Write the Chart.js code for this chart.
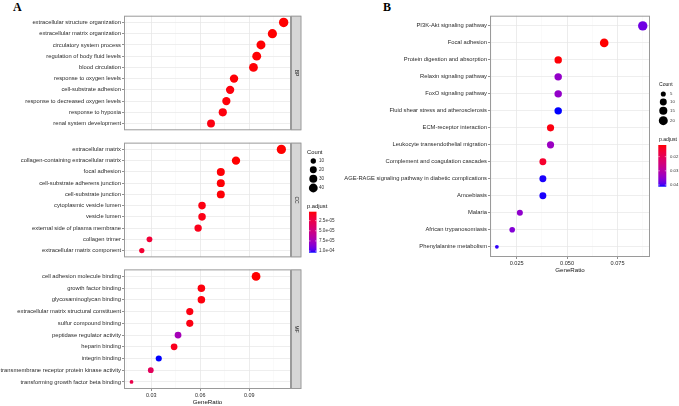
<!DOCTYPE html>
<html>
<head>
<meta charset="utf-8">
<script src="https://cdn.jsdelivr.net/npm/chart.js@4.4.0/dist/chart.umd.min.js"></script>
<style>
  html, body { margin: 0; padding: 0; background: #fff; }
  #wrap { position: relative; width: 679px; height: 406px; overflow: hidden; }
  canvas { position: absolute; }
  .tag { position: absolute; font-family: "Liberation Serif", serif; font-weight: bold; font-size: 12px; line-height: 12px; }
</style>
</head>
<body>
<div id="wrap">
  <div class="tag" style="left:13px;top:1px">A</div>
  <div class="tag" style="left:383px;top:1px">B</div>
  <canvas id="bp" width="340" height="124" style="left:0;top:11px"></canvas>
  <canvas id="cc" width="340" height="124" style="left:0;top:138px"></canvas>
  <canvas id="mf" width="340" height="141" style="left:0;top:265px"></canvas>
  <canvas id="kegg" width="339" height="263" style="left:340px;top:11px"></canvas>
</div>
<script>
// ---- GO enrichment (panel A), top row first ----
const bpTerms = ['extracellular structure organization', 'extracellular matrix organization', 'circulatory system process',
  'regulation of body fluid levels', 'blood circulation', 'response to oxygen levels', 'cell-substrate adhesion',
  'response to decreased oxygen levels', 'response to hypoxia', 'renal system development'];
const bpRatio = [0.1111, 0.1042, 0.0972, 0.0946, 0.0926, 0.0807, 0.0783, 0.0760, 0.0738, 0.0666];
const bpCount = [48, 45, 42, 41, 40, 35, 34, 33, 32, 29];
const bpPadj = [3e-6, 3e-6, 3.5e-6, 3.5e-6, 4e-6, 4e-6, 5e-6, 4.5e-6, 5e-6, 6e-6];

const ccTerms = ['extracellular matrix', 'collagen-containing extracellular matrix', 'focal adhesion',
  'cell-substrate adherens junction', 'cell-substrate junction', 'cytoplasmic vesicle lumen', 'vesicle lumen',
  'external side of plasma membrane', 'collagen trimer', 'extracellular matrix component'];
const ccRatio = [0.1097, 0.0819, 0.0726, 0.0726, 0.0726, 0.0611, 0.0611, 0.0587, 0.0289, 0.0242];
const ccCount = [46, 34, 30, 30, 30, 25, 25, 24, 12, 10];
const ccPadj = [3e-6, 3e-6, 4e-6, 4e-6, 4e-6, 6e-6, 7e-6, 8e-6, 1.8e-5, 1.6e-5];

const mfTerms = ['cell adhesion molecule binding', 'growth factor binding', 'glycosaminoglycan binding',
  'extracellular matrix structural constituent', 'sulfur compound binding', 'peptidase regulator activity',
  'heparin binding', 'integrin binding', 'transmembrane receptor protein kinase activity',
  'transforming growth factor beta binding'];
const mfRatio = [0.0942, 0.0607, 0.0607, 0.0536, 0.0536, 0.0464, 0.0440, 0.0346, 0.0297, 0.0179];
const mfCount = [39, 25, 25, 22, 22, 19, 18, 14, 12, 7];
const mfPadj = [3e-6, 5e-6, 5e-6, 6e-6, 6e-6, 7.4e-5, 9e-6, 1.04e-4, 3.3e-5, 2.6e-5];

const goTicks = [0.03, 0.06, 0.09];
const goMinor = [0.015, 0.045, 0.075, 0.105];
const goCountKeys = [10, 20, 30, 40];
const goPadjKeys = [2.5e-5, 5e-5, 7.5e-5, 1e-4];
const goPadjLabels = ['2.5e-05', '5.0e-05', '7.5e-05', '1.0e-04'];

// ---- KEGG enrichment (panel B) ----
const keggTerms = ['PI3K-Akt signaling pathway', 'Focal adhesion', 'Protein digestion and absorption',
  'Relaxin signaling pathway', 'FoxO signaling pathway', 'Fluid shear stress and atherosclerosis',
  'ECM-receptor interaction', 'Leukocyte transendothelial migration', 'Complement and coagulation cascades',
  'AGE-RAGE signaling pathway in diabetic complications', 'Amoebiasis', 'Malaria', 'African trypanosomiasis',
  'Phenylalanine metabolism'];
const keggRatio = [0.0875, 0.0684, 0.0456, 0.0456, 0.0456, 0.0456, 0.0418, 0.0418, 0.0380, 0.0380, 0.0380, 0.0266, 0.0228, 0.0152];
const keggCount = [23, 18, 12, 12, 12, 12, 11, 11, 10, 10, 10, 7, 6, 4];
const keggPadj = [0.0378, 0.0118, 0.0121, 0.0347, 0.0347, 0.0412, 0.0126, 0.0338, 0.0150, 0.0410, 0.0410, 0.0350, 0.0362, 0.0406];

const keggTicks = [0.025, 0.050, 0.075];
const keggMinor = [0.0125, 0.0375, 0.0625, 0.0875];
const keggCountKeys = [5, 10, 15, 20];
const keggPadjKeys = [0.02, 0.03, 0.04];
const keggPadjLabels = ['0.02', '0.03', '0.04'];

Chart.defaults.font.family = '"Liberation Sans", Arial, sans-serif';
Chart.defaults.animation = false;

// red -> blue gradient interpolated in Lab, like ggplot
function toLin(c) { c /= 255; return c <= 0.04045 ? c / 12.92 : Math.pow((c + 0.055) / 1.055, 2.4); }
function fromLin(c) {
  c = c <= 0.0031308 ? 12.92 * c : 1.055 * Math.pow(Math.max(c, 0), 1 / 2.4) - 0.055;
  return Math.round(Math.min(1, Math.max(0, c)) * 255);
}
function rgb2lab(rgb) {
  const [r, g, b] = rgb.map(toLin);
  const f = t => t > 0.008856 ? Math.cbrt(t) : 7.787 * t + 16 / 116;
  const x = f((0.4124 * r + 0.3576 * g + 0.1805 * b) / 0.95047);
  const y = f(0.2126 * r + 0.7152 * g + 0.0722 * b);
  const z = f((0.0193 * r + 0.1192 * g + 0.9505 * b) / 1.08883);
  return [116 * y - 16, 500 * (x - y), 200 * (y - z)];
}
function lab2rgb([L, a, bb]) {
  const fy = (L + 16) / 116, fx = fy + a / 500, fz = fy - bb / 200;
  const g = t => t * t * t > 0.008856 ? t * t * t : (t - 16 / 116) / 7.787;
  const x = g(fx) * 0.95047, y = g(fy), z = g(fz) * 1.08883;
  return [3.2406 * x - 1.5372 * y - 0.4986 * z,
          -0.9689 * x + 1.8758 * y + 0.0415 * z,
          0.0557 * x - 0.2040 * y + 1.0570 * z].map(fromLin);
}
const LOW = rgb2lab([255, 0, 0]), HIGH = rgb2lab([0, 0, 255]);
function colorOf(p, range) {
  const t = Math.min(1, Math.max(0, (p - range[0]) / (range[1] - range[0])));
  const c = lab2rgb(LOW.map((v, i) => v + (HIGH[i] - v) * t));
  return 'rgb(' + c.join(',') + ')';
}
// point radius: area scaled between the smallest and largest count
function sizeOf(n, range) {
  return 1.9 + 2.8 * Math.sqrt((n - range[0]) / (range[1] - range[0]));
}
const span = arr => [Math.min(...arr), Math.max(...arr)];

const goCountRange = span([...bpCount, ...ccCount, ...mfCount]);
const goPadjRange = span([...bpPadj, ...ccPadj, ...mfPadj]);
const keggCountRange = span(keggCount);
const keggPadjRange = span(keggPadj);

const panelBorder = {
  id: 'panelBorder',
  afterDraw(chart) {
    const { ctx, chartArea: a } = chart;
    ctx.save();
    ctx.strokeStyle = '#9a9a9a';
    ctx.lineWidth = 1;
    ctx.strokeRect(a.left + 0.5, a.top + 0.5, a.right - a.left - 1, a.bottom - a.top - 1);
    ctx.restore();
  }
};

function stripPlugin(text) {
  return {
    id: 'strip',
    afterDraw(chart) {
      const { ctx, chartArea: a } = chart;
      ctx.save();
      ctx.fillStyle = '#d6d6d6';
      ctx.fillRect(a.right, a.top, 10, a.bottom - a.top);
      ctx.strokeStyle = '#9a9a9a';
      ctx.strokeRect(a.right + 0.5, a.top + 0.5, 9.5, a.bottom - a.top - 1);
      ctx.translate(a.right + 5, (a.top + a.bottom) / 2);
      ctx.rotate(Math.PI / 2);
      ctx.fillStyle = '#1a1a1a';
      ctx.font = '5px "Liberation Sans"';
      ctx.textAlign = 'center';
      ctx.textBaseline = 'middle';
      ctx.fillText(text, 0, 0);
      ctx.restore();
    }
  };
}

// legend positions are page coordinates; ox/oy is the canvas offset
function legendPlugin(L) {
  return {
    id: 'dotLegend',
    afterDraw(chart) {
      const ctx = chart.ctx;
      ctx.save();
      ctx.translate(-L.ox, -L.oy);
      ctx.textBaseline = 'middle';
      ctx.textAlign = 'left';
      ctx.fillStyle = '#111';
      ctx.font = L.titleSize + 'px "Liberation Sans"';
      ctx.fillText('Count', L.x, L.countY);
      ctx.fillText('p.adjust', L.x, L.barTop - 5);
      ctx.font = L.labSize + 'px "Liberation Sans"';
      L.counts.forEach((n, i) => {
        ctx.fillStyle = '#000';
        ctx.beginPath();
        ctx.arc(L.dotX, L.dotY[i], sizeOf(n, L.cRange), 0, Math.PI * 2);
        ctx.fill();
        ctx.fillStyle = '#333';
        ctx.fillText(String(n), L.labX, L.dotY[i]);
      });
      const h = L.barBottom - L.barTop;
      const grad = ctx.createLinearGradient(0, L.barTop, 0, L.barBottom);
      for (let k = 0; k <= 20; k++) {
        grad.addColorStop(k / 20, colorOf(L.pRange[0] + (L.pRange[1] - L.pRange[0]) * k / 20, L.pRange));
      }
      ctx.fillStyle = grad;
      ctx.fillRect(L.barX, L.barTop, L.barW, h);
      L.pKeys.forEach((v, i) => {
        const y = L.barTop + (v - L.pRange[0]) / (L.pRange[1] - L.pRange[0]) * h;
        ctx.strokeStyle = '#fff';
        ctx.lineWidth = 0.5;
        ctx.beginPath();
        ctx.moveTo(L.barX, y); ctx.lineTo(L.barX + 1.5, y);
        ctx.moveTo(L.barX + L.barW - 1.5, y); ctx.lineTo(L.barX + L.barW, y);
        ctx.stroke();
        ctx.fillStyle = '#333';
        ctx.fillText(L.pLabels[i], L.labX, y);
      });
      ctx.restore();
    }
  };
}

const near = (v, list) => list.some(t => Math.abs(t - v) < 1e-9);

function dotChart(id, o) {
  const plugins = [panelBorder];
  if (o.strip) plugins.push(stripPlugin(o.strip));
  if (o.legend) plugins.push(o.legend);
  return new Chart(document.getElementById(id), {
    type: 'scatter',
    data: {
      datasets: [{
        data: o.ratio.map((r, i) => ({ x: r, y: i })),
        pointRadius: c => sizeOf(o.count[c.dataIndex], o.cRange),
        pointHoverRadius: c => sizeOf(o.count[c.dataIndex], o.cRange),
        pointBackgroundColor: c => colorOf(o.padj[c.dataIndex], o.pRange),
        pointBorderWidth: 0
      }]
    },
    options: {
      responsive: false,
      events: [],
      layout: { padding: { left: 0, right: o.padR, top: 0, bottom: 0 } },
      plugins: { legend: { display: false }, tooltip: { enabled: false } },
      scales: {
        x: {
          type: 'linear', min: o.xMin, max: o.xMax,
          afterBuildTicks: s => { s.ticks = [...o.ticks, ...o.minor].sort((a, b) => a - b).map(v => ({ value: v })); },
          afterFit: s => { s.height = o.showX ? 17 : 0; s.paddingLeft = 0; s.paddingRight = 0; },
          border: { display: false },
          grid: {
            color: c => c.tick && near(c.tick.value, o.ticks) ? '#e4e4e4' : '#f2f2f2',
            lineWidth: c => c.tick && near(c.tick.value, o.ticks) ? 0.7 : 0.4,
            drawTicks: o.showX, tickLength: 2, tickWidth: 0.6,
            tickColor: c => c.tick && near(c.tick.value, o.ticks) ? '#444' : 'rgba(0,0,0,0)'
          },
          ticks: {
            display: o.showX, autoSkip: false, maxRotation: 0, padding: 1,
            font: { size: o.xfs }, color: '#2a2a2a',
            callback: v => near(v, o.ticks) ? v.toFixed(o.dec) : ''
          },
          title: { display: o.showX, text: 'GeneRatio', font: { size: 6.2 }, color: '#111', padding: 0 }
        },
        y: {
          type: 'linear', reverse: true, min: -0.6, max: o.terms.length - 0.4,
          afterBuildTicks: s => { s.ticks = o.terms.map((_, i) => ({ value: i })); },
          afterFit: s => { s.width = o.yW; s.paddingTop = 0; s.paddingBottom = 0; },
          border: { display: false },
          grid: { color: '#e6e6e6', lineWidth: 0.7, tickLength: 2, tickWidth: 0.6, tickColor: '#444' },
          ticks: { autoSkip: false, padding: 1, font: { size: o.yfs }, color: '#2a2a2a', callback: v => o.terms[v] }
        }
      }
    },
    plugins
  });
}

const goBase = { cRange: goCountRange, pRange: goPadjRange, xMin: 0.0133, xMax: 0.1156,
  ticks: goTicks, minor: goMinor, dec: 2, yW: 124, padR: 49, yfs: 5.8, xfs: 5.4 };

dotChart('bp', { ...goBase, terms: bpTerms, ratio: bpRatio, count: bpCount, padj: bpPadj, strip: 'BP', showX: false });
dotChart('cc', { ...goBase, terms: ccTerms, ratio: ccRatio, count: ccCount, padj: ccPadj, strip: 'CC', showX: false,
  legend: legendPlugin({ ox: 0, oy: 138, x: 307, countY: 152.5, dotX: 313.3, dotY: [161, 169.7, 178.7, 188], labX: 319,
    titleSize: 5.8, labSize: 4.6,
    counts: goCountKeys, cRange: goCountRange, barX: 309, barW: 7.5, barTop: 211.7, barBottom: 252.7,
    pRange: goPadjRange, pKeys: goPadjKeys, pLabels: goPadjLabels }) });
dotChart('mf', { ...goBase, terms: mfTerms, ratio: mfRatio, count: mfCount, padj: mfPadj, strip: 'MF', showX: true });

dotChart('kegg', { terms: keggTerms, ratio: keggRatio, count: keggCount, padj: keggPadj,
  cRange: keggCountRange, pRange: keggPadjRange, xMin: 0.0118, xMax: 0.0911,
  ticks: keggTicks, minor: keggMinor, dec: 3, yW: 150, padR: 29, yfs: 5.8, xfs: 5.6, showX: true,
  legend: legendPlugin({ ox: 340, oy: 11, x: 659, countY: 85, dotX: 663.3, dotY: [94, 102, 110.7, 120.7], labX: 670,
    titleSize: 5.1, labSize: 4.3,
    counts: keggCountKeys, cRange: keggCountRange, barX: 658.3, barW: 8, barTop: 145, barBottom: 186.7,
    pRange: keggPadjRange, pKeys: keggPadjKeys, pLabels: keggPadjLabels }) });
</script>
</body>
</html>
